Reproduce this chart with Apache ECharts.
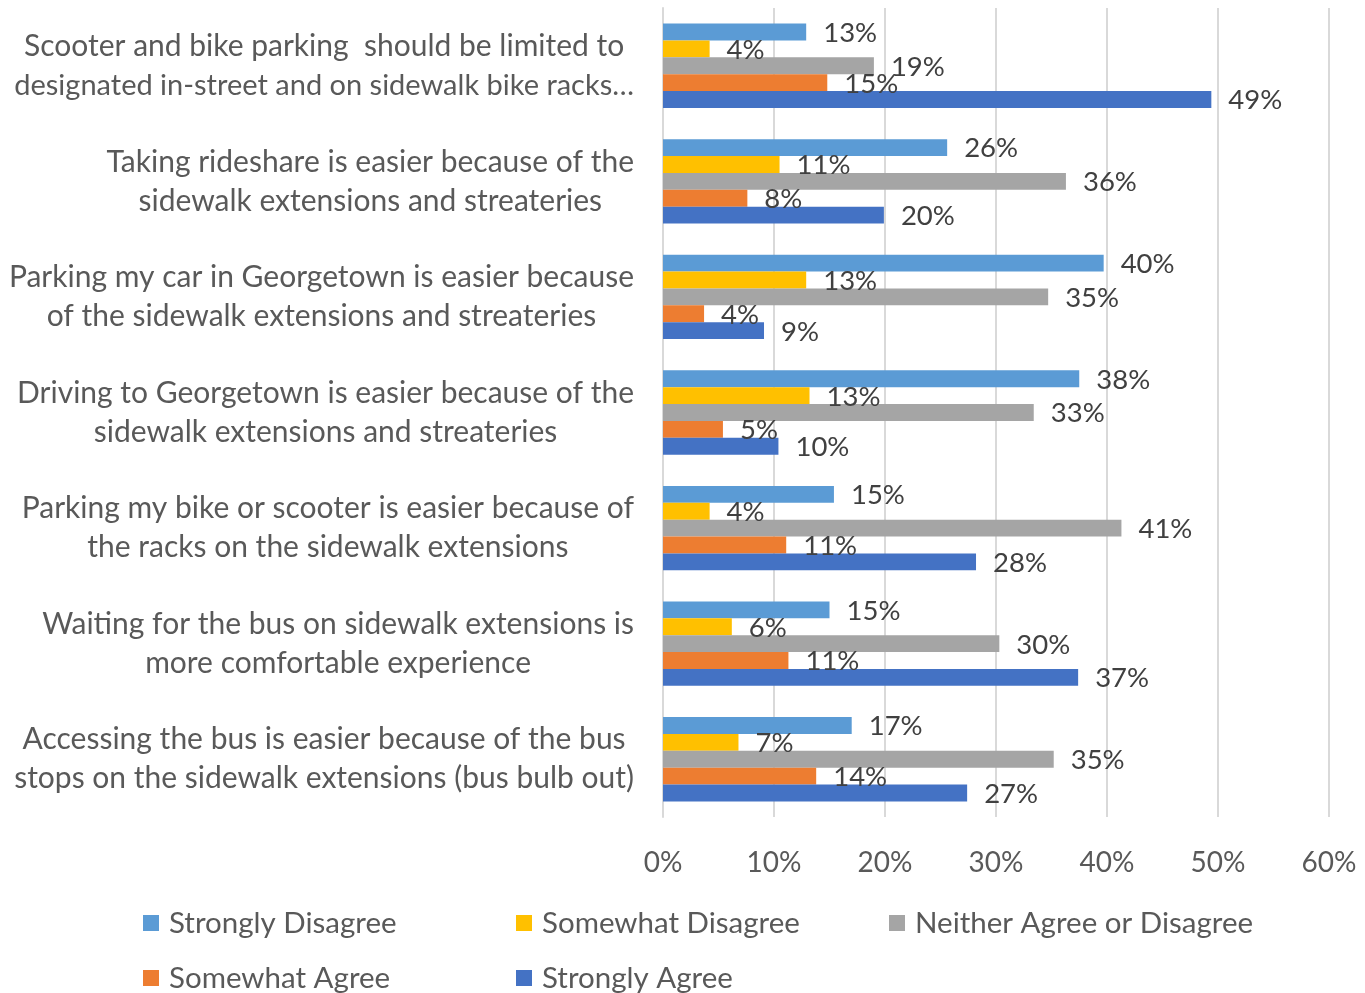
<!DOCTYPE html>
<html>
<head>
<meta charset="utf-8">
<script src="https://cdn.jsdelivr.net/npm/echarts@6/dist/echarts.min.js"></script>
<style>
  html, body { margin: 0; padding: 0; background: #fff; }
  #chart { width: 1365px; height: 993px; }
</style>
</head>
<body>
<div id="chart"></div>
<script>
// survey statements (two lines each)
var categories = [
  'Scooter and bike parking  should be limited to\ndesignated in-street and on sidewalk bike racks\u2026',
  'Taking rideshare is easier because of the\nsidewalk extensions and streateries',
  'Parking my car in Georgetown is easier because\nof the sidewalk extensions and streateries',
  'Driving to Georgetown is easier because of the\nsidewalk extensions and streateries',
  'Parking my bike or scooter is easier because of\nthe racks on the sidewalk extensions',
  'Waiting for the bus on sidewalk extensions is\nmore comfortable experience',
  'Accessing the bus is easier because of the bus\nstops on the sidewalk extensions (bus bulb out)'
];

var seriesNames = ['Strongly Disagree', 'Somewhat Disagree', 'Neither Agree or Disagree', 'Somewhat Agree', 'Strongly Agree'];
var seriesColors = ['#5B9BD5', '#FFC000', '#A5A5A5', '#ED7D31', '#4472C4'];

// percent values
var stronglyDisagree = [12.9, 25.6, 39.7, 37.5, 15.4, 15.0, 17.0];
var somewhatDisagree = [4.2, 10.5, 12.9, 13.2, 4.2, 6.2, 6.8];
var neitherAgree = [19.0, 36.3, 34.7, 33.4, 41.3, 30.3, 35.2];
var somewhatAgree = [14.8, 7.6, 3.7, 5.4, 11.1, 11.3, 13.8];
var stronglyAgree = [49.4, 19.9, 9.1, 10.4, 28.2, 37.4, 27.4];

var xTicks = { min: 0, max: 60, interval: 10 };

var FONT = 'Lato';
var allData = [stronglyDisagree, somewhatDisagree, neitherAgree, somewhatAgree, stronglyAgree];

var series = [];
for (var i = 0; i < seriesNames.length; i++) {
  series.push({
    name: seriesNames[i],
    type: 'bar',
    barGap: '0%',
    barCategoryGap: '27%',
    itemStyle: { color: seriesColors[i] },
    label: {
      show: true,
      position: 'right',
      distance: 17,
      fontFamily: FONT,
      fontSize: 27.5,
      color: '#404040',
      offset: [0, 1],
      formatter: function (p) { return Math.round(p.value) + '%'; }
    },
    data: allData[i]
  });
}

// legend laid out like the original: 3 items on first row, 2 on second
var legendPos = [[138, 903], [511, 903], [884, 903], [138, 958], [511, 958]];
var legends = [];
for (var j = 0; j < seriesNames.length; j++) {
  legends.push({
    data: [seriesNames[j]],
    left: legendPos[j][0],
    top: legendPos[j][1],
    icon: 'rect',
    itemWidth: 16,
    itemHeight: 16,
    textStyle: { fontFamily: FONT, fontSize: 29.5, lineHeight: 30, color: '#595959', padding: [0, 0, 0, 5] }
  });
}

var chart = echarts.init(document.getElementById('chart'));
chart.setOption({
  animation: false,
  backgroundColor: '#ffffff',
  grid: { left: 663, right: 36, top: 8, bottom: 176, outerBoundsMode: 'none', containLabel: false },
  legend: legends,
  xAxis: {
    type: 'value',
    min: xTicks.min,
    max: xTicks.max,
    interval: xTicks.interval,
    axisLine: { show: false },
    axisTick: { show: false },
    axisLabel: {
      margin: 32,
      fontFamily: FONT,
      fontSize: 28,
      color: '#595959',
      formatter: '{value}%'
    },
    splitLine: { lineStyle: { color: '#D9D9D9', width: 2 } }
  },
  yAxis: {
    type: 'category',
    inverse: true,
    data: categories,
    axisLine: { show: true, lineStyle: { color: '#D9D9D9', width: 2 } },
    axisTick: { show: false },
    axisLabel: {
      margin: 29,
      fontFamily: FONT,
      fontSize: 30,
      color: '#595959',
      lineHeight: 39,
      formatter: function (v) {
        // the truncated line is a bit long for the space, shrink it slightly
        return v.split('\n').map(function (s) {
          return (s.indexOf('\u2026') >= 0 ? '{n|' : '{c|') + s + '}';
        }).join('\n');
      },
      rich: {
        c: { align: 'center', fontFamily: FONT, fontSize: 30, color: '#595959', lineHeight: 39 },
        n: { align: 'center', fontFamily: FONT, fontSize: 29, color: '#595959', lineHeight: 39 }
      }
    }
  },
  series: series
});
</script>
</body>
</html>
